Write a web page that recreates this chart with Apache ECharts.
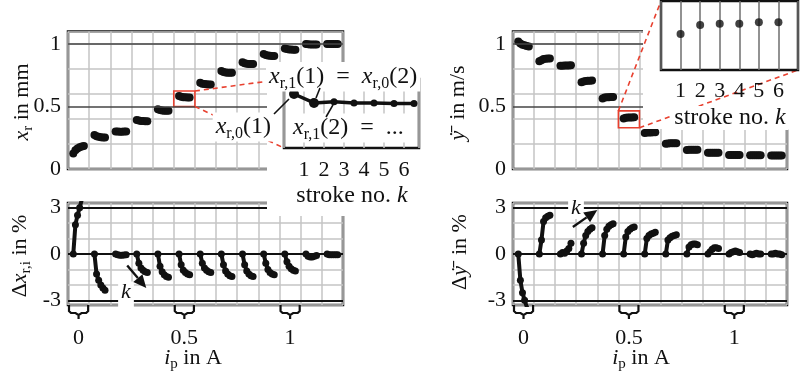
<!DOCTYPE html>
<html>
<head>
<meta charset="utf-8">
<script src="https://cdn.jsdelivr.net/npm/echarts@6/dist/echarts.min.js"></script>
<style>
  html, body { margin: 0; padding: 0; background: #fff; }
  #chart { width: 800px; height: 378px; }
</style>
</head>
<body>
<div id="chart"></div>
<script>
// pulse current levels (A), one group of 6 strokes per level
const currents = [0, 0.1, 0.2, 0.3, 0.4, 0.5, 0.6, 0.7, 0.8, 0.9, 1.0, 1.1, 1.2];

// x_r in mm, strokes k = 1..6 for each current
const xr = [
  [0.125, 0.150, 0.165, 0.175, 0.180, 0.185],
  [0.272, 0.262, 0.258, 0.255, 0.253, 0.252],
  [0.300, 0.300, 0.299, 0.299, 0.300, 0.300],
  [0.392, 0.388, 0.385, 0.384, 0.383, 0.382],
  [0.478, 0.472, 0.469, 0.467, 0.466, 0.466],
  [0.585, 0.578, 0.575, 0.574, 0.573, 0.573],
  [0.690, 0.683, 0.680, 0.678, 0.677, 0.677],
  [0.785, 0.777, 0.773, 0.771, 0.770, 0.770],
  [0.855, 0.847, 0.843, 0.841, 0.840, 0.840],
  [0.920, 0.912, 0.908, 0.906, 0.905, 0.905],
  [0.965, 0.960, 0.957, 0.956, 0.955, 0.955],
  [1.000, 0.998, 0.997, 0.997, 0.997, 0.997],
  [1.000, 1.000, 1.000, 1.000, 1.000, 1.000]
];

// mean velocity in m/s
const ydot = [
  [1.020, 1.005, 0.995, 0.990, 0.985, 0.980],
  [0.862, 0.870, 0.880, 0.882, 0.884, 0.885],
  [0.826, 0.827, 0.828, 0.828, 0.829, 0.831],
  [0.695, 0.700, 0.704, 0.706, 0.707, 0.708],
  [0.565, 0.572, 0.574, 0.575, 0.576, 0.576],
  [0.405, 0.410, 0.412, 0.413, 0.413, 0.414],
  [0.289, 0.292, 0.293, 0.293, 0.294, 0.294],
  [0.203, 0.205, 0.206, 0.206, 0.206, 0.206],
  [0.153, 0.154, 0.154, 0.154, 0.154, 0.154],
  [0.130, 0.131, 0.131, 0.131, 0.131, 0.131],
  [0.112, 0.112, 0.112, 0.112, 0.112, 0.112],
  [0.110, 0.110, 0.110, 0.110, 0.110, 0.110],
  [0.108, 0.108, 0.108, 0.108, 0.108, 0.108]
];

// deviation of x_r,i in %
const dxr = [
  [0, 1.9, 2.5, 3.0, 3.5, 3.9],
  [0, -1.3, -1.7, -2.0, -2.2, -2.35],
  [0, -0.05, -0.08, -0.08, -0.06, -0.05],
  [0, -0.6, -0.9, -1.05, -1.15, -1.2],
  [0, -0.8, -1.15, -1.35, -1.45, -1.5],
  [0, -0.7, -1.05, -1.2, -1.3, -1.35],
  [0, -0.6, -0.9, -1.05, -1.15, -1.2],
  [0, -0.7, -1.1, -1.3, -1.4, -1.45],
  [0, -0.7, -1.1, -1.3, -1.4, -1.45],
  [0, -0.6, -1.0, -1.2, -1.3, -1.35],
  [0, -0.5, -0.8, -0.95, -1.05, -1.1],
  [0, -0.15, -0.2, -0.2, -0.15, -0.1],
  [0, -0.05, -0.05, -0.05, -0.05, -0.05]
];

// deviation of mean velocity in %
const dydot = [
  [0, -1.7, -2.5, -3.0, -3.4, -3.7],
  [0, 0.9, 2.1, 2.35, 2.45, 2.5],
  [0, 0.1, 0.05, 0.2, 0.35, 0.7],
  [0, 0.7, 1.2, 1.45, 1.6, 1.7],
  [0, 1.2, 1.6, 1.8, 1.9, 1.95],
  [0, 1.1, 1.45, 1.6, 1.7, 1.75],
  [0, 1.0, 1.2, 1.3, 1.35, 1.4],
  [0, 0.9, 1.05, 1.15, 1.2, 1.25],
  [0, 0.45, 0.6, 0.65, 0.65, 0.6],
  [0, 0.15, 0.3, 0.4, 0.4, 0.35],
  [0, 0.1, 0.15, 0.2, 0.15, 0.1],
  [0, -0.05, 0, 0.05, 0, 0],
  [0, 0, 0.05, 0, 0, -0.05]
];

// zoomed strokes (insets)
const insetXr = [0.597, 0.581, 0.583, 0.581, 0.581, 0.580, 0.580]; // x_r,0(1), x_r,1(1) ... x_r,1(6)
const insetYdot = [0.403, 0.420, 0.422, 0.422, 0.425, 0.425];
const strokeNo = [1, 2, 3, 4, 5, 6];

const xTicks = [0, 0.5, 1];
const topTicks = [0, 0.5, 1];
const botTicks = [-3, 0, 3];

const F = 'Liberation Serif';
const INK = '#111';
const GRID_C = '#c4c4c4';
const STEP = 0.01;

let chart = echarts.init(document.getElementById('chart'));

const richZ = {
  i: { fontFamily: F, fontStyle: 'italic', fontSize: 22, fill: INK },
  n: { fontFamily: F, fontSize: 22, fill: INK },
  s: { fontFamily: F, fontSize: 15, fill: INK, padding: [12, 0, 0, 0] },
  I: { fontFamily: F, fontStyle: 'italic', fontSize: 24, fill: INK },
  w: { fontFamily: F, fontSize: 24, fill: INK },
  S: { fontFamily: F, fontSize: 16, fill: INK, padding: [13, 0, 0, 0] }
};

function grid(left, top, width, height, z) {
  return {
    left: left, top: top, width: width, height: height,
    containLabel: false, outerBoundsMode: 'none',
    show: true, borderColor: INK, borderWidth: 2.5, backgroundColor: '#fff',
    z: z || 0
  };
}

function mainX(gi, labels) {
  return {
    type: 'value', gridIndex: gi, min: -0.05, max: 1.25, interval: 0.1,
    axisLine: { show: false }, axisTick: { show: false },
    axisLabel: labels ? {
      show: true, customValues: xTicks, margin: 22,
      fontFamily: F, fontSize: 22, color: INK,
      formatter: v => String(+v.toFixed(2))
    } : { show: false },
    splitLine: { show: true, lineStyle: { color: GRID_C, width: 1.5 } }
  };
}

function topY(gi) {
  return {
    type: 'value', gridIndex: gi, min: 0, max: 1.1, interval: 0.2,
    axisLine: { show: false }, axisTick: { show: false },
    axisLabel: { customValues: topTicks, margin: 7, fontFamily: F, fontSize: 22, color: INK,
      formatter: v => String(+v.toFixed(2)) },
    splitLine: { show: true, lineStyle: { color: GRID_C, width: 1.5 } }
  };
}

function botY(gi) {
  return {
    type: 'value', gridIndex: gi, min: -3.3, max: 3.3, splitNumber: 7,
    axisLine: { show: false }, axisTick: { show: false },
    axisLabel: { customValues: botTicks, margin: 7, fontFamily: F, fontSize: 22, color: INK,
      formatter: v => String(Math.round(v)) },
    splitLine: { show: true, lineStyle: { color: GRID_C, width: 1.5 } }
  };
}

function groups(values, ai, sym, lw) {
  return currents.map((c, g) => ({
    type: 'line', xAxisIndex: ai, yAxisIndex: ai,
    animation: false, silent: true, z: 3,
    symbol: 'circle', symbolSize: sym, showSymbol: true,
    itemStyle: { color: INK }, lineStyle: { color: INK, width: lw },
    data: values[g].map((v, k) => [c + (k - 2.5) * STEP, v])
  }));
}

function hLines(vals, color, width) {
  return {
    silent: true, symbol: 'none', label: { show: false },
    lineStyle: { color: color, width: width, type: 'solid' },
    data: vals.map(v => ({ yAxis: v }))
  };
}

function redBox(x0, y0, x1, y1) {
  return {
    silent: true, label: { show: false },
    itemStyle: { color: 'rgba(0,0,0,0)', borderColor: '#e8402f', borderWidth: 1.6 },
    data: [[{ xAxis: x0, yAxis: y0 }, { xAxis: x1, yAxis: y1 }]]
  };
}

const s0 = groups(xr, 0, 8, 4.5);
const s1 = groups(ydot, 1, 8, 4.5);
const s2 = groups(dxr, 2, 7, 4);
const s3 = groups(dydot, 3, 7, 4);
s0[0].markLine = hLines([0.5, 1], '#444', 1.5);
s1[0].markLine = hLines([0.5, 1], '#444', 1.5);
s2[0].markLine = hLines([-3, 0, 3], INK, 2.2);
s3[0].markLine = hLines([-3, 0, 3], INK, 2.2);
s0[0].markArea = redBox(0.45, 0.5, 0.55, 0.624);
s1[0].markArea = redBox(0.45, 0.33, 0.55, 0.465);

const option = {
  backgroundColor: '#fff',
  animation: false,
  grid: [
    grid(68, 31.5, 275, 137.5),
    grid(513, 31.5, 274, 137.5),
    grid(68, 203, 275, 102),
    grid(513, 203, 274, 102),
    grid(284, 79, 135, 69, 6),
    grid(661, 1, 137, 69, 6)
  ],
  xAxis: [
    mainX(0, false), mainX(1, false), mainX(2, true), mainX(3, true),
    {
      type: 'value', gridIndex: 4, min: 0, max: 6.75, interval: 1, z: 6,
      axisLine: { show: false }, axisTick: { show: false },
      axisLabel: { customValues: strokeNo, margin: 11, fontFamily: F, fontSize: 22, color: INK },
      splitLine: { show: true, lineStyle: { color: GRID_C, width: 1.5 } }
    },
    {
      type: 'value', gridIndex: 5, min: 0, max: 7, interval: 1, z: 6,
      axisLine: { show: false }, axisTick: { show: false },
      axisLabel: { customValues: strokeNo, margin: 10, fontFamily: F, fontSize: 22, color: INK },
      splitLine: { show: true, lineStyle: { color: '#6e6e6e', width: 1.5 } }
    }
  ],
  yAxis: [
    topY(0), topY(1), botY(2), botY(3),
    { type: 'value', gridIndex: 4, min: 0.5, max: 0.624, z: 6,
      axisLine: { show: false }, axisTick: { show: false }, axisLabel: { show: false }, splitLine: { show: false } },
    { type: 'value', gridIndex: 5, min: 0.335, max: 0.465, z: 6,
      axisLine: { show: false }, axisTick: { show: false }, axisLabel: { show: false }, splitLine: { show: false } }
  ],
  series: [].concat(s0, s1, s2, s3, [
    {
      type: 'line', xAxisIndex: 4, yAxisIndex: 4, z: 7, silent: true,
      symbol: 'circle', symbolSize: 7,
      itemStyle: { color: INK }, lineStyle: { color: INK, width: 3.5 },
      data: insetXr.map((v, j) => ({ value: [j + 0.5, v], symbolSize: j < 2 ? 10 : 7 }))
    },
    {
      type: 'scatter', xAxisIndex: 5, yAxisIndex: 5, z: 7, silent: true,
      symbol: 'circle', symbolSize: 8, itemStyle: { color: INK },
      data: insetYdot.map((v, j) => [strokeNo[j], v]),
      markLine: hLines([0.4], '#6e6e6e', 1.5)
    }
  ])
};

chart.setOption(option);

// annotations: axis names, inset labels, connectors, brackets, arrows
function px(gi, p) { return chart.convertToPixel({ gridIndex: gi }, p); }

function txt(x, y, text, align, rot, bg, z, pad) {
  return {
    type: 'text', x: x, y: y, z: z || 9, rotation: rot || 0, silent: true,
    style: {
      text: text, rich: richZ, align: align || 'center', verticalAlign: 'middle',
      backgroundColor: bg ? '#fff' : null, padding: bg ? (pad || [0, 3, 0, 3]) : 0,
      fontFamily: F, fontSize: 22, fill: INK
    }
  };
}

function seg(a, b, color, width, dash, z) {
  return {
    type: 'line', z: z || 10, silent: true,
    shape: { x1: a[0], y1: a[1], x2: b[0], y2: b[1] },
    style: { stroke: color, lineWidth: width, lineDash: dash || null }
  };
}

function arrow(a, b) {
  const dx = b[0] - a[0], dy = b[1] - a[1];
  const len = Math.hypot(dx, dy), ux = dx / len, uy = dy / len;
  const hl = 13, hw = 6;
  const base = [b[0] - ux * hl, b[1] - uy * hl];
  return [
    seg(a, base, INK, 2.4, null, 10),
    { type: 'polygon', z: 10, silent: true,
      shape: { points: [b, [base[0] - uy * hw, base[1] + ux * hw], [base[0] + uy * hw, base[1] - ux * hw]] },
      style: { fill: INK } }
  ];
}

function bracket(gi, t) {
  const a = px(gi, [t - 0.05, -3.3]);
  const b = px(gi, [t + 0.05, -3.3]);
  const c = (a[0] + b[0]) / 2, y0 = a[1], y1 = a[1] + 8, y2 = a[1] + 14;
  return {
    type: 'polyline', z: 10, silent: true,
    shape: { points: [[a[0] + 1, y0], [a[0] + 1, y1 - 2], [a[0] + 3, y1], [c - 3, y1], [c, y1 + 2], [c, y2], [c, y1 + 2], [c + 3, y1], [b[0] - 3, y1], [b[0] - 1, y1 - 2], [b[0] - 1, y0]] },
    style: { stroke: INK, lineWidth: 2.2, fill: null }
  };
}

const g = [];
// cover the main plots where the insets sit
g.push({ type: 'rect', z: 5, silent: true, shape: { x: 267, y: 62, width: 175, height: 154 }, style: { fill: '#fff' } });
g.push({ type: 'rect', z: 5, silent: true, shape: { x: 643, y: 0, width: 157, height: 129 }, style: { fill: '#fff' } });

// red dashed connectors from the boxes to the insets
const RED = '#e8402f';
const lb1 = px(0, [0.55, 0.624]), lb2 = px(0, [0.55, 0.5]);
const li1 = px(4, [0, 0.624]), li2 = px(4, [0, 0.5]);
g.push(seg(lb1, li1, RED, 1.6, [5, 4], 5.5));
g.push(seg(lb2, li2, RED, 1.6, [5, 4], 5.5));
const rb1 = px(1, [0.45, 0.465]), rb2 = px(1, [0.55, 0.33]);
const ri1 = px(5, [0, 0.465]), ri2 = px(5, [7, 0.335]);
g.push(seg(rb1, ri1, RED, 1.6, [5, 4], 5.5));
g.push(seg(rb2, ri2, RED, 1.6, [5, 4], 5.5));

// axis names
const DOT_BAR = 'y\u0307\u0304';
g.push(txt(22, 102, '{i|x}{s|r}{n| in mm}', 'center', Math.PI / 2));
g.push(txt(458, 103, '{i|' + DOT_BAR + '}{n|  in m/s}', 'center', Math.PI / 2));
g.push(txt(20, 256, '{n|\u0394}{i|x}{s|r,i}{n| in %}', 'center', Math.PI / 2));
g.push(txt(460, 252, '{n|\u0394}{i|' + DOT_BAR + '}{n|  in %}', 'center', Math.PI / 2));
g.push(txt(193, 358, '{i|i}{s|p}{n| in A}'));
g.push(txt(641, 358, '{i|i}{s|p}{n| in A}'));

// inset annotations
g.push(txt(266, 77, '{I|x}{S|r,1}{w|(1)  =  }{I|x}{S|r,0}{w|(2)}', 'left', 0, true));
g.push(txt(274, 127, '{I|x}{S|r,0}{w|(1)}', 'right', 0, true));
g.push(txt(290, 128, '{I|x}{S|r,1}{w|(2)  =  ...}', 'left', 0, true));
g.push(txt(352, 196, '{w|stroke no. }{I|k}', 'center', 0, true));
g.push(txt(730, 118, '{w|stroke no. }{I|k}', 'center', 0, true));
const p0 = px(4, [0.5, insetXr[0]]), p1 = px(4, [1.5, insetXr[1]]), p2 = px(4, [2.5, insetXr[2]]);
g.push(seg([274, 114], [p0[0] - 5, p0[1] + 5], INK, 1.6));
g.push(seg([320, 88], [p1[0] + 2, p1[1] - 5], INK, 1.6));
g.push(seg([326, 117], [p2[0] - 1, p2[1] + 3], INK, 1.6));

// stroke direction arrows
g.push(txt(126, 296, '{i|k}', 'center', 0, true, 9, [0, 3, 7, 3]));
g.push(txt(576, 208, '{i|k}', 'center', 0, true));
g.push.apply(g, arrow(px(2, [0.23, -0.75]), px(2, [0.32, -2.2])));
g.push.apply(g, arrow(px(3, [0.234, 1.75]), px(3, [0.35, 2.85])));

// brackets under the current ticks
xTicks.forEach(t => { g.push(bracket(2, t)); g.push(bracket(3, t)); });

chart.setOption({ graphic: { elements: g } });

window.addEventListener('resize', function () { chart.resize(); });
</script>
</body>
</html>
